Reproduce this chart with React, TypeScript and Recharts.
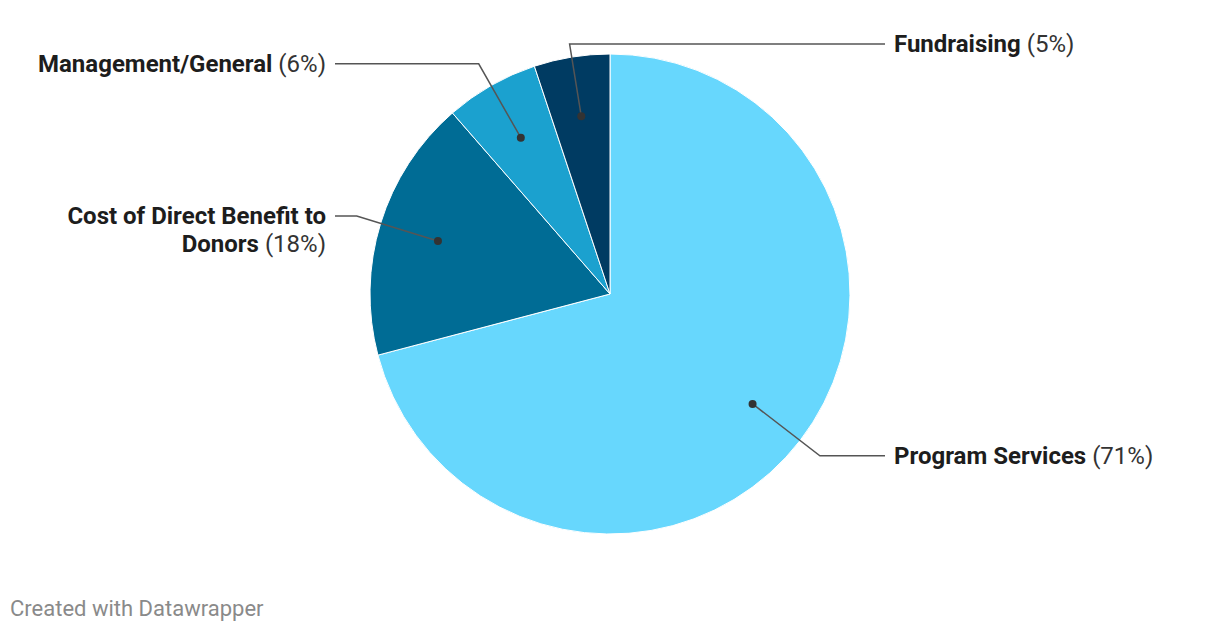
import { PieChart, Pie, Cell } from "recharts";

const categories = [
  "Program Services",
  "Cost of Direct Benefit to Donors",
  "Management/General",
  "Fundraising",
];
// shares; labels show them rounded
const shares = [70.9, 17.7, 6.3, 5.1];
const labelLines = [
  ["Program Services"],
  ["Cost of Direct Benefit to", "Donors"],
  ["Management/General"],
  ["Fundraising"],
];
const colors = ["#67d7fd", "#006c95", "#1ba1cf", "#003b62"];

const data = categories.map((name, i) => ({
  name,
  value: shares[i],
  lines: labelLines[i],
}));

const RAD = Math.PI / 180;
const FONT = "Roboto, 'Noto Sans', sans-serif";

function LeaderLabel(props: any) {
  const { cx, cy, midAngle, outerRadius, index } = props;
  const cos = Math.cos(-midAngle * RAD);
  const sin = Math.sin(-midAngle * RAD);
  // dot inside the slice
  const dx = cx + outerRadius * 0.75 * cos;
  const dy = cy + outerRadius * 0.75 * sin;
  // elbow, radial, but not above the top of the pie
  let er = outerRadius + 25;
  const minY = cy - outerRadius - 10;
  if (cy + er * sin < minY) er = (minY - cy) / sin;
  const ex = cx + er * cos;
  const ey = cy + er * sin;
  const right = cos > -0.25;
  const hx = right ? cx + outerRadius + 35 : cx - outerRadius - 35;
  const tx = right ? hx + 9 : hx - 9;
  const item = data[index];
  const lines: string[] = item.lines;

  return (
    <g>
      <polyline
        points={`${dx},${dy} ${ex},${ey} ${hx},${ey}`}
        fill="none"
        stroke="#555"
        strokeWidth={1.5}
      />
      <circle cx={dx} cy={dy} r={4} fill="#333" />
      <text
        x={tx}
        y={ey}
        textAnchor={right ? "start" : "end"}
        dominantBaseline="central"
        fontFamily={FONT}
        fontSize={24}
        fill="#1d1d1d"
      >
        {lines.map((line, i) => (
          <tspan key={i} x={tx} dy={i === 0 ? 0 : 28}>
            <tspan fontWeight="bold">{line}</tspan>
            {i === lines.length - 1 ? (
              <tspan fontWeight="normal" fill="#333">{` (${Math.round(item.value)}%)`}</tspan>
            ) : null}
          </tspan>
        ))}
      </text>
    </g>
  );
}

export default function App() {
  return (
    <div style={{ position: "absolute", left: 0, top: 0, width: 1220, height: 634, background: "#fff" }}>
      <style>{"body{margin:0}"}</style>
      <PieChart width={1220} height={634} margin={{ top: 0, right: 0, bottom: 0, left: 0 }}>
        <Pie
          data={data}
          dataKey="value"
          nameKey="name"
          cx={610}
          cy={294}
          outerRadius={240}
          startAngle={90}
          endAngle={-270}
          stroke="#fff"
          strokeWidth={1}
          label={LeaderLabel}
          labelLine={false}
          isAnimationActive={false}
        >
          {data.map((d, i) => (
            <Cell key={d.name} fill={colors[i]} />
          ))}
        </Pie>
      </PieChart>
      <div
        style={{
          position: "absolute",
          left: 10,
          top: 596,
          fontFamily: FONT,
          fontSize: 22,
          color: "#8a8a8a",
        }}
      >
        Created with Datawrapper
      </div>
    </div>
  );
}
